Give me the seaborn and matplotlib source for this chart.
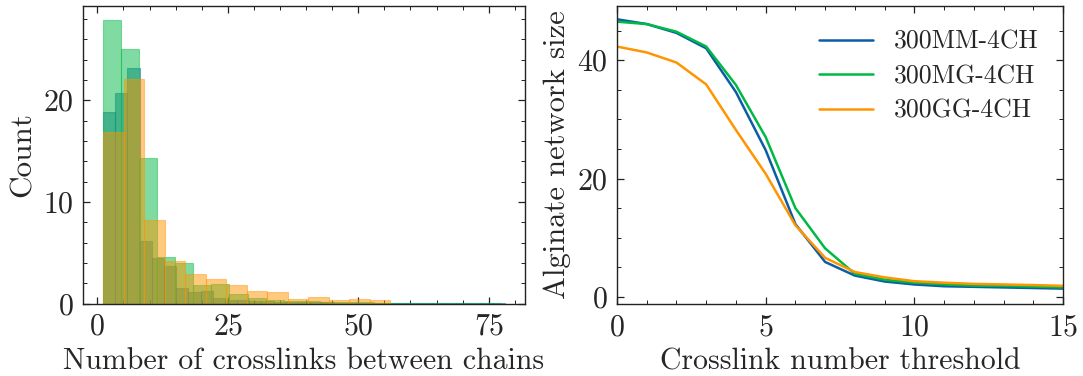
import numpy as np
import pandas as pd
import matplotlib
matplotlib.use("Agg")
import matplotlib.pyplot as plt
from matplotlib.colors import to_rgba
from matplotlib.ticker import AutoMinorLocator, MultipleLocator
import seaborn as sns

# ---------------- data ----------------
series = ["300MM-4CH", "300MG-4CH", "300GG-4CH"]
colors = ["#0C5DA5", "#00B945", "#FF9500"]

# histogram (left): bin start, bin width, bar heights per series
hist_start = 1.1
hist_width = {"300MM-4CH": 2.333, "300MG-4CH": 3.46, "300GG-4CH": 3.93}
hist_counts = {
    "300MM-4CH": [18.8, 20.7, 23.2, 6.1, 4.5, 3.7, 1.5, 1.1, 1.2, 0.5, 0.35,
                  0.3, 0.25, 0.2, 0.15, 0.15, 0.1, 0.1, 0.1, 0.08, 0.08, 0.06,
                  0.06, 0.05, 0.05, 0.05, 0.04, 0.04, 0.03, 0.03, 0.03, 0.02, 0.02],
    "300MG-4CH": [27.9, 25.0, 14.3, 4.55, 4.0, 1.8, 1.9, 0.9, 0.5, 0.3, 0.25,
                  0.25, 0.15, 0.1, 0.1, 0.08, 0.06, 0.05, 0.05, 0.04, 0.03, 0.03],
    "300GG-4CH": [16.9, 22.1, 8.2, 4.15, 2.9, 2.4, 1.8, 1.2, 1.1, 0.42, 0.62,
                  0.33, 0.42, 0.37],
}

# line plot (right)
threshold = list(range(16))
network_size = {
    "300MM-4CH": [46.9, 46.1, 44.6, 42.0, 34.6, 24.8, 12.3, 5.9, 3.6, 2.6, 2.1,
                  1.8, 1.7, 1.6, 1.5, 1.4],
    "300MG-4CH": [46.5, 46.1, 44.8, 42.3, 35.8, 27.0, 15.0, 8.2, 3.9, 2.9, 2.4,
                  2.1, 1.9, 1.86, 1.75, 1.6],
    "300GG-4CH": [42.3, 41.3, 39.6, 35.9, 28.2, 20.8, 12.1, 6.6, 4.2, 3.3, 2.65,
                  2.4, 2.2, 2.1, 2.0, 1.86],
}

# ---------------- style ----------------
sns.set_style("ticks")
plt.rcParams["font.family"] = ["cmr10", "DejaVu Serif"]
plt.rcParams["mathtext.fontset"] = "cm"
plt.rcParams["axes.formatter.use_mathtext"] = True
plt.rcParams["font.size"] = 21.5
plt.rcParams["axes.unicode_minus"] = False

fig = plt.figure(figsize=(10.83, 3.76), dpi=100)
W, H = 1083, 376
ax1 = fig.add_axes([83 / W, (H - 303.5) / H, (525 - 83) / W, (303.5 - 5.7) / H])
ax2 = fig.add_axes([617 / W, (H - 304) / H, (1063 - 617) / W, (304 - 5.7) / H])

# ---------------- left: histograms ----------------
for name, col in zip(series, colors):
    counts = np.array(hist_counts[name], dtype=float)
    w = hist_width[name]
    edges = hist_start + w * np.arange(len(counts) + 1)
    centers = (edges[:-1] + edges[1:]) / 2
    hdf = pd.DataFrame({"x": centers, "w": counts})
    sns.histplot(data=hdf, x="x", weights="w", bins=list(edges), ax=ax1,
                 color=col, alpha=0.5, edgecolor=to_rgba(col, 0.45),
                 linewidth=0.8)

ax1.set_xlabel("Number of crosslinks between chains", fontsize=21.5)
ax1.set_ylabel("Count", fontsize=22.5)
ax1.xaxis.set_major_locator(MultipleLocator(25))
ax1.xaxis.set_minor_locator(AutoMinorLocator(5))
ax1.yaxis.set_major_locator(MultipleLocator(10))
ax1.yaxis.set_minor_locator(AutoMinorLocator(5))

# ---------------- right: lines ----------------
rows = []
for name in series:
    for t, v in zip(threshold, network_size[name]):
        rows.append({"threshold": t, "size": v, "series": name})
df = pd.DataFrame(rows)
sns.lineplot(data=df, x="threshold", y="size", hue="series",
             hue_order=series, palette=colors, ax=ax2, linewidth=1.8)
ax2.set_xlim(0, 15)
ax2.set_ylim(-1.2, 49.2)
ax2.set_xlabel("Crosslink number threshold", fontsize=21.5)
ax2.set_ylabel("Alginate network size", fontsize=22)
ax2.xaxis.set_major_locator(MultipleLocator(5))
ax2.xaxis.set_minor_locator(AutoMinorLocator(5))
ax2.yaxis.set_major_locator(MultipleLocator(20))
ax2.yaxis.set_minor_locator(AutoMinorLocator(4))
leg = ax2.legend(loc="upper right", frameon=False, handlelength=2.1,
                 labelspacing=0.42, fontsize=18.5, borderaxespad=0.55,
                 handletextpad=0.8)

for ax in (ax1, ax2):
    ax.tick_params(which="both", direction="in", top=True, right=True,
                   labelsize=21.5, color="#222222")
    ax.tick_params(which="major", length=5, width=0.9, pad=7)
    ax.tick_params(which="minor", length=2.6, width=0.7)
    for s in ax.spines.values():
        s.set_linewidth(1.0)
        s.set_color("#222222")
    ax.xaxis.labelpad = 5
    ax.yaxis.labelpad = 4

fig.savefig("out.png", dpi=100)
